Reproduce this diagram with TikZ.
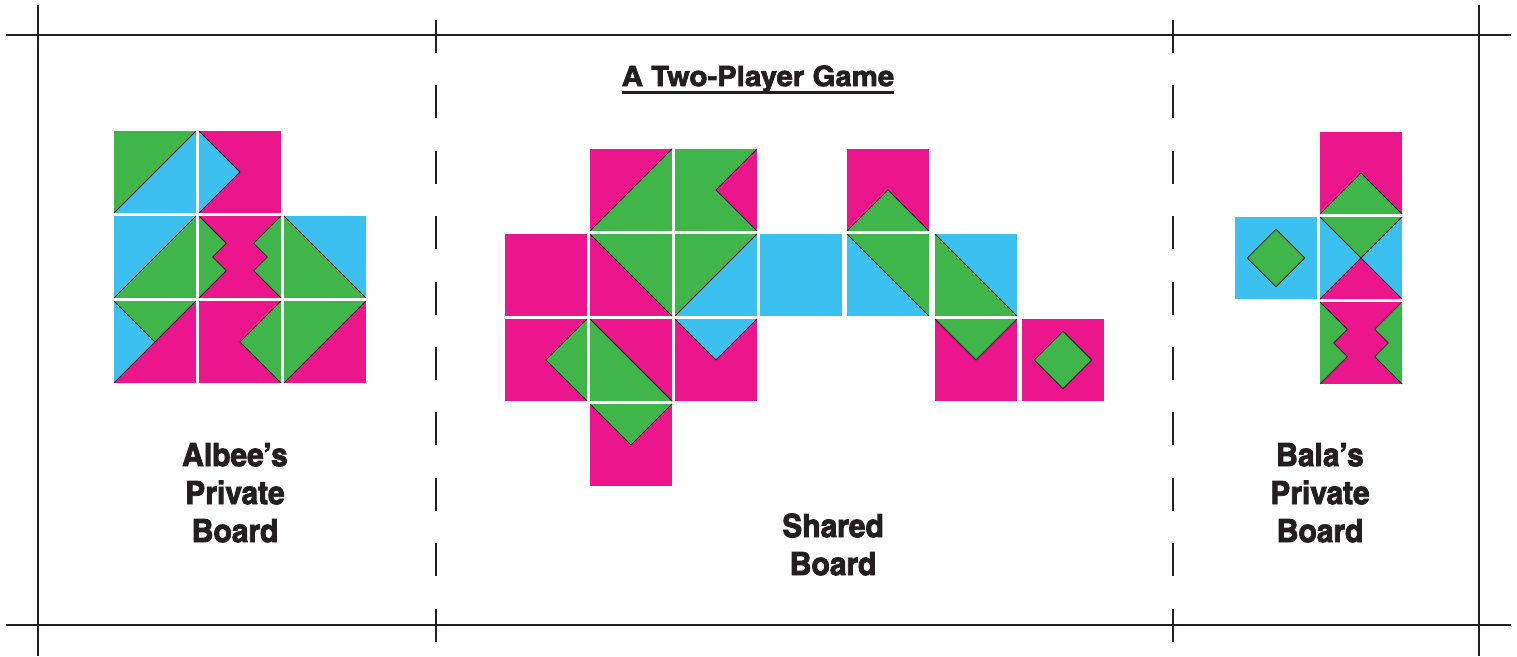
\documentclass[tikz,border=0pt]{standalone}
\usepackage{fontspec}
\newfontfamily\cnfont{texgyreheroscn}[Extension=.otf, UprightFont=*-bold, FakeBold=2.6, FakeStretch=1.14]
\newfontfamily\ttlfont{texgyreheroscn}[Extension=.otf, UprightFont=*-bold, FakeBold=2.4, FakeStretch=1.28]
\definecolor{mag}{HTML}{EC168C}
\definecolor{grn}{HTML}{40B54A}
\definecolor{cyn}{HTML}{3BC0F0}
\definecolor{ink}{HTML}{231F20}
\tikzset{
  M/.style={fill=mag}, G/.style={fill=grn}, B/.style={fill=cyn},
  edge/.style={draw=ink, line width=0.8pt, line join=round},
  rule/.style={draw=ink, line width=2.4pt},
  cut/.style={draw=ink, line width=2.4pt, dash pattern=on 33pt off 32.4pt},
  lbl/.style={font=\cnfont\fontsize{32}{38}\selectfont, align=center, inner sep=0pt, text=ink},
}
\newcommand\tile[3]{\begin{scope}[shift={(#1,#2)},x=82pt,y=-82pt]#3\end{scope}}
\newcommand\full[1]{\fill[#1] (0,0) rectangle (1,1);}
\newcommand\diagA[1]{\fill[#1] (0,0)--(1,0)--(0,1)--cycle; \draw[edge] (0,1)--(1,0);}% upper-left triangle
\newcommand\diagB[1]{\fill[#1] (0,0)--(1,0)--(1,1)--cycle; \draw[edge] (0,0)--(1,1);}% upper-right triangle
\newcommand\triT[1]{\fill[#1] (0,0)--(1,0)--(.5,.5)--cycle; \draw[edge] (0,0)--(.5,.5)--(1,0);}
\newcommand\triB[1]{\fill[#1] (0,1)--(1,1)--(.5,.5)--cycle; \draw[edge] (0,1)--(.5,.5)--(1,1);}
\newcommand\triL[1]{\fill[#1] (0,0)--(.5,.5)--(0,1)--cycle; \draw[edge] (0,0)--(.5,.5)--(0,1);}
\newcommand\triR[1]{\fill[#1] (1,0)--(.5,.5)--(1,1)--cycle; \draw[edge] (1,0)--(.5,.5)--(1,1);}
\newcommand\zig[1]{\fill[#1] (0,0)--(1/3,1/3)--(1/6,1/2)--(1/3,2/3)--(0,1)--cycle;
  \fill[#1] (1,0)--(2/3,1/3)--(5/6,1/2)--(2/3,2/3)--(1,1)--cycle;
  \draw[edge] (0,0)--(1/3,1/3)--(1/6,1/2)--(1/3,2/3)--(0,1);
  \draw[edge] (1,0)--(2/3,1/3)--(5/6,1/2)--(2/3,2/3)--(1,1);}
\newcommand\gem[1]{\fill[#1] (.5,.15)--(.85,.5)--(.5,.85)--(.15,.5)--cycle; \draw[edge] (.5,.15)--(.85,.5)--(.5,.85)--(.15,.5)--cycle;}
\begin{document}
\begin{tikzpicture}[x=1pt,y=-1pt]
\useasboundingbox (0,0) rectangle (1517,656);
% frame
\draw[rule] (6,35) -- (1511,35);
\draw[rule] (6,625) -- (1511,625);
\draw[rule] (38,5) -- (38,656);
\draw[rule] (1479,5) -- (1479,656);
\draw[cut] (436,20) -- (436,643);
\draw[cut] (1173,20) -- (1173,643);
% title
\node[lbl, font=\ttlfont\fontsize{28}{32}\selectfont, anchor=base] (title) at (758,86) {A Two-Player Game};
\draw[ink, line width=2.4pt] ([yshift=-6.5pt]title.base west) -- ([yshift=-6.5pt]title.base east);
% Albee's board
\tile{114}{131}{\full{B}\diagA{G}}
\tile{199}{131}{\full{M}\triL{B}}
\tile{114}{216}{\full{G}\diagA{B}}
\tile{199}{216}{\full{M}\zig{G}}
\tile{284}{216}{\full{G}\diagB{B}}
\tile{114}{301}{\full{M}\fill[G] (0,0)--(1,0)--(.5,.5)--cycle; \fill[B] (0,0)--(.5,.5)--(0,1)--cycle; \draw[edge] (0,1)--(1,0); \draw[edge] (0,0)--(.5,.5);}
\tile{199}{301}{\full{M}\triR{G}}
\tile{284}{301}{\full{M}\diagA{G}}
% shared board
\tile{590}{149}{\full{G}\diagA{M}}
\tile{675}{149}{\full{G}\triR{M}}
\tile{847}{149}{\full{M}\triB{G}}
\tile{505}{234}{\full{M}}
\tile{590}{234}{\full{M}\diagB{G}}
\tile{675}{234}{\full{B}\diagA{G}}
\tile{760}{234}{\full{B}}
\tile{847}{234}{\full{B}\diagB{G}}
\tile{935}{234}{\full{G}\diagB{B}}
\tile{505}{319}{\full{M}\triR{G}}
\tile{590}{319}{\full{G}\diagB{M}}
\tile{675}{319}{\full{M}\triT{B}}
\tile{935}{319}{\full{M}\triT{G}}
\tile{1022}{319}{\full{M}\gem{G}}
\tile{590}{404}{\full{M}\triT{G}}
% Bala's board
\tile{1320}{132}{\full{M}\triB{G}}
\tile{1235}{217}{\full{B}\gem{G}}
\tile{1320}{217}{\full{B}\fill[G] (0,0)--(1,0)--(.5,.5)--cycle; \fill[M] (0,1)--(1,1)--(.5,.5)--cycle; \draw[edge] (0,0)--(1,1); \draw[edge] (1,0)--(0,1);}
\tile{1320}{302}{\full{M}\zig{G}}
% labels (base anchor = baseline of last line)
\node[lbl, anchor=base] (albee) at (235,542) {Albee’s\\Private\\Board};
\node[lbl, anchor=base] (shared) at (833,575) {Shared\\Board};
\node[lbl, anchor=base] (bala) at (1320,542) {Bala’s\\Private\\Board};
\end{tikzpicture}
\end{document}
